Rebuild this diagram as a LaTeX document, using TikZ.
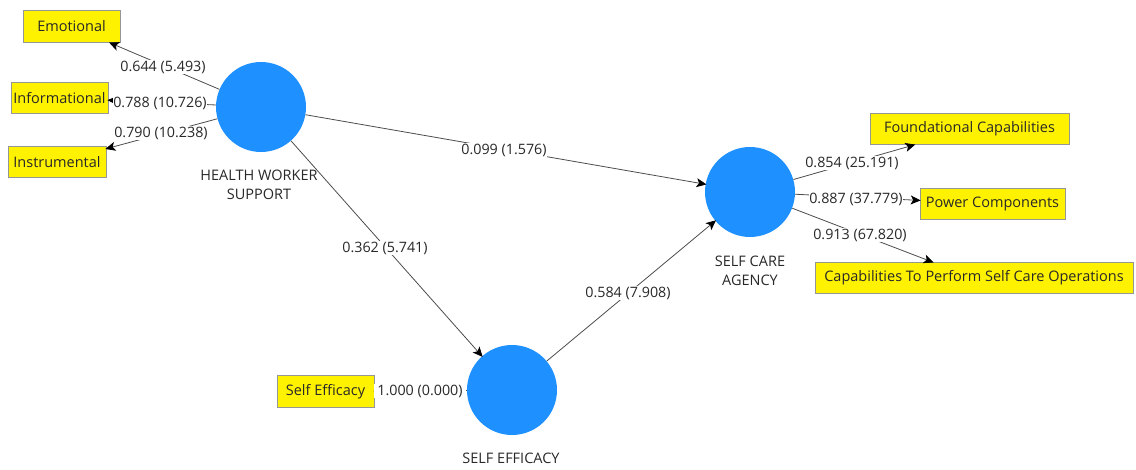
\documentclass[tikz,border=0pt]{standalone}
\usepackage{fontspec}
\setmainfont{Open Sans}
\usetikzlibrary{arrows.meta}
\definecolor{lvblue}{RGB}{30,144,255}
\definecolor{boxborder}{RGB}{150,150,150}
\definecolor{txt}{RGB}{40,40,40}
\begin{document}
\begin{tikzpicture}[x=1pt,y=-1pt,
  lv/.style={circle,fill=lvblue,draw=none,minimum size=90pt,inner sep=0pt},
  ind/.style={fill=yellow,draw=boxborder,line width=0.7pt,inner sep=0pt,
    font=\fontsize{14.5}{17}\selectfont,text=txt,minimum height=31pt},
  num/.style={fill=white,inner sep=0.8pt,font=\fontsize{14.3}{17}\selectfont,text=txt},
  lvlabel/.style={align=center,inner sep=0pt,font=\fontsize{14.5}{19}\selectfont,text=txt},
  arr/.style={draw=black!70,line width=0.8pt,-{Stealth[length=10pt,width=9pt,inset=2.5pt,color=black]},shorten >=-1pt}
]
\useasboundingbox (0,0) rectangle (1136,470);
% latent variables
\node[lv] (hws) at (261,107) {};
\node[lv] (sca) at (750,192) {};
\node[lv] (se) at (512,390) {};
\node[lvlabel] (hwsl) at (259,185) {HEALTH WORKER\\SUPPORT};
\node[lvlabel] (scal) at (750,271) {SELF CARE\\AGENCY};
\node[lvlabel] (sel) at (511,458) {SELF EFFICACY};
% indicators
\node[ind,minimum width=97pt,minimum height=32pt] (emo) at (71.5,26.5) {Emotional};
\node[ind,minimum width=97pt] (inf) at (59.5,98) {Informational};
\node[ind,minimum width=98pt] (ins) at (57,162) {Instrumental};
\node[ind,minimum width=199pt] (fc) at (969.5,129) {Foundational Capabilities};
\node[ind,minimum width=145pt] (pc) at (992.5,204) {Power Components};
\node[ind,minimum width=318pt] (cap) at (974,278) {Capabilities To Perform Self Care Operations};
\node[ind,minimum width=97pt,minimum height=32pt] (sei) at (325.5,391.5) {Self Efficacy};
% connectors
\draw[arr] (hws) -- (emo);
\draw[arr] (hws) -- (inf);
\draw[arr] (hws) -- (ins);
\draw[arr] (hws) -- (sca);
\draw[arr] (hws) -- (se);
\draw[arr] (se) -- (sca);
\draw[arr] (se) -- (sei);
\draw[arr] (sca) -- (fc);
\draw[arr] (sca) -- (pc);
\draw[arr] (sca) -- (cap);
% path labels
\node[num] (lemo) at (163,67) {0.644 (5.493)};
\node[num] (linf) at (160,103) {0.788 (10.726)};
\node[num] (lins) at (161,133) {0.790 (10.238)};
\node[num] (lhs) at (504,150) {0.099 (1.576)};
\node[num] (lhse) at (385,248) {0.362 (5.741)};
\node[num] (lsesc) at (628,293) {0.584 (7.908)};
\node[num] (lfc) at (852,163) {0.854 (25.191)};
\node[num] (lpc) at (856,199) {0.887 (37.779)};
\node[num] (lcap) at (860,235) {0.913 (67.820)};
\node[num,inner xsep=3.5pt] (lse) at (420,391) {1.000 (0.000)};
\end{tikzpicture}
\end{document}
